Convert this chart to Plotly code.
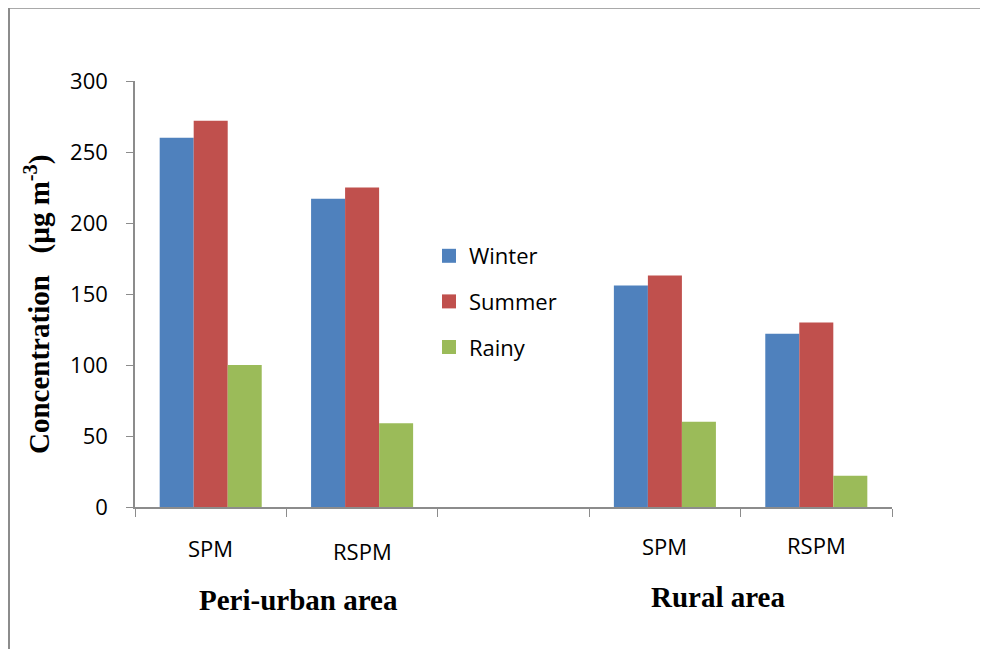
import plotly.graph_objects as go

categories = ["Peri SPM", "Peri RSPM", "gap", "Rural SPM", "Rural RSPM"]
tick_labels = ["SPM", "RSPM", "", "SPM", "RSPM"]
winter = [260, 217, None, 156, 122]
summer = [272, 225, None, 163, 130]
rainy = [100, 59, None, 60, 22]
series_names = ["Winter", "Summer", "Rainy"]
colors = ["#4F81BD", "#C0504D", "#9BBB59"]
group_titles = ["Peri-urban area", "Rural area"]

# page offset (body margin) in the screenshot
OX, OY = 8, 8
W, H = 988, 649
# plot area in screenshot pixels
X0, X1, Y0, Y1 = 135, 892, 81, 507
L, T = X0 - OX, Y0 - OY
R, B = W - (X1 - OX), H - (Y1 - OY)
pw, ph = X1 - X0, Y1 - Y0


def px(x):
    return (x - X0) / pw


def py(y):
    return (Y1 - y) / ph


fig = go.Figure()
for name, vals, c in zip(series_names, [winter, summer, rainy], colors):
    fig.add_trace(go.Bar(x=categories, y=vals, name=name, marker_color=c,
                         marker_line_width=0, legendgroup=name, showlegend=False))
    # legend entry with a larger square swatch
    fig.add_trace(go.Scatter(x=[None], y=[None], mode="markers", name=name,
                             legendgroup=name,
                             marker=dict(symbol="square", size=14, color=c)))

label_shifts = [-41, -44, 0, -39, -38]
annotations = []
for cat, lab, sh in zip(categories, tick_labels, label_shifts):
    if lab:
        annotations.append(dict(x=cat, xref="x", y=0, yref="paper", yshift=sh,
                                text=lab, showarrow=False, yanchor="middle",
                                font=dict(family="Open Sans", size=22, color="black")))
annotations.append(dict(x=0.5, xref="x", y=0, yref="paper", yshift=-93,
                        text="<b>" + group_titles[0] + "</b>", showarrow=False,
                        yanchor="middle", xshift=12,
                        font=dict(family="Liberation Serif", size=29, color="black")))
annotations.append(dict(x=3.5, xref="x", y=0, yref="paper", yshift=-90,
                        text="<b>" + group_titles[1] + "</b>", showarrow=False,
                        yanchor="middle", xshift=-23,
                        font=dict(family="Liberation Serif", size=29, color="black")))
annotations.append(dict(x=px(37), xref="paper", y=py(305), yref="paper",
                        text="<b>Concentration   (µg m<sup>-3</sup>)</b>", showarrow=False,
                        textangle=-90, xanchor="center", yanchor="middle",
                        font=dict(family="Liberation Serif", size=29, color="black")))

shapes = [
    dict(type="line", xref="paper", yref="paper", x0=px(9), x1=px(9),
         y0=py(8), y1=py(670), line=dict(color="#8c8c8c", width=2)),
    dict(type="line", xref="paper", yref="paper", x0=px(9), x1=px(1010),
         y0=py(8), y1=py(8), line=dict(color="#8c8c8c", width=1.5)),
]

fig.update_layout(
    width=W, height=H, margin=dict(l=L, r=R, t=T, b=B),
    paper_bgcolor="white", plot_bgcolor="white",
    barmode="group", bargap=0.326, bargroupgap=0,
    font=dict(family="Open Sans", size=20, color="black"),
    legend=dict(x=px(429), y=py(235), xanchor="left", yanchor="top",
                font=dict(family="Open Sans", size=22, color="black"),
                tracegroupgap=14, bgcolor="rgba(0,0,0,0)"),
    annotations=annotations, shapes=shapes,
    xaxis=dict(type="category", showticklabels=False, ticks="outside", tickson="boundaries",
               ticklen=8, tickcolor="#8c8c8c", showline=True, linecolor="#8c8c8c",
               linewidth=1.5, showgrid=False, zeroline=False),
    yaxis=dict(range=[0, 300], dtick=50, ticks="outside", ticklen=7, tickcolor="#8c8c8c",
               showline=True, linecolor="#8c8c8c", linewidth=1.5, showgrid=False,
               zeroline=False, tickfont=dict(family="Open Sans", size=22, color="black"),
               ticklabelstandoff=14),
)

fig.write_html("out.html")
